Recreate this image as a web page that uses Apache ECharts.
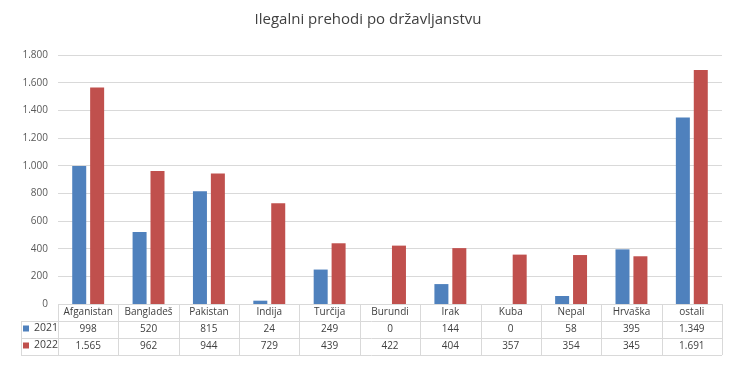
<!DOCTYPE html>
<html><head><meta charset="utf-8">
<script src="https://cdn.jsdelivr.net/npm/echarts@6/dist/echarts.min.js"></script>
<style>html,body{margin:0;padding:0;background:#fff}#c{width:736px;height:367px}</style>
</head><body><div id="c"></div>
<script>
var categories = ['Afganistan','Bangladeš','Pakistan','Indija','Turčija','Burundi','Irak','Kuba','Nepal','Hrvaška','ostali'];
var values2021 = [998,520,815,24,249,0,144,0,58,395,1349];
var values2022 = [1565,962,944,729,439,422,404,357,354,345,1691];
var seriesNames = ['2021','2022'];
var yTicks = [0,200,400,600,800,1000,1200,1400,1600,1800];

function fmt(v){ return String(v).replace(/\B(?=(\d{3})+(?!\d))/g,'.'); }

var FONT = "'Open Sans', sans-serif";
var TXT = '#404040';
var LINE = '#D9D9D9';
var gl = 58, gr = 14, gt = 55, gb = 63; // grid
var W = 736, H = 367;
var x0 = gl, x1 = W - gr, yAx = H - gb;
var rowH = 17, leftX = 21;

var graphics = [];
function hline(x, x2, y){ graphics.push({type:'line', shape:{x1:x,y1:y,x2:x2,y2:y}, style:{stroke:LINE,lineWidth:1}, silent:true}); }
function vline(x, y, y2){ graphics.push({type:'line', shape:{x1:x,y1:y,x2:x,y2:y2}, style:{stroke:LINE,lineWidth:1}, silent:true}); }
hline(x0, x1, yAx + 0.5);
hline(leftX, x1, yAx + rowH + 0.5);
hline(leftX, x1, yAx + 2*rowH + 0.5);
hline(leftX, x1, yAx + 3*rowH + 0.5);
vline(leftX + 0.5, yAx + rowH, yAx + 3*rowH);
var cw = (x1 - x0) / categories.length;
for (var i = 0; i <= categories.length; i++) {
  var xx = Math.round(x0 + i*cw) + 0.5;
  vline(xx, yAx, yAx + 3*rowH);
}

function tableAxis(offset, formatter){
  return {
    type:'category', data:categories, position:'bottom', offset:offset,
    axisLine:{show:false}, axisTick:{show:false}, splitLine:{show:false},
    axisLabel:{interval:0, color:TXT, fontSize:10, fontFamily:FONT, margin:8.5, verticalAlign:'middle', formatter:formatter}
  };
}
function legendRow(k){
  return {data:[seriesNames[k]], left:23, top:yAx + rowH*(k+1) + 2, padding:0,
    itemWidth:6, itemHeight:6, icon:'rect',
    textStyle:{fontFamily:FONT, fontSize:10.5, color:TXT}};
}

var chart = echarts.init(document.getElementById('c'));
chart.setOption({
  animation:false,
  title:{text:'Ilegalni prehodi po državljanstvu', left:'center', top:7,
    textStyle:{fontFamily:FONT, fontSize:15, fontWeight:'normal', color:TXT}},
  legend:[legendRow(0), legendRow(1)],
  grid:{left:gl, right:gr, top:gt, bottom:gb},
  xAxis:[
    tableAxis(0, function(v){ return v; }),
    tableAxis(rowH, function(v, i){ return fmt(values2021[i]); }),
    tableAxis(2*rowH, function(v, i){ return fmt(values2022[i]); })
  ],
  yAxis:{type:'value', min:yTicks[0], max:yTicks[yTicks.length-1], interval:200,
    axisLine:{show:false}, axisTick:{show:false},
    splitLine:{lineStyle:{color:LINE}},
    axisLabel:{color:'#595959', fontSize:10, fontFamily:FONT, margin:10, formatter:function(v){return fmt(v);}}},
  series:[
    {name:seriesNames[0], type:'bar', data:values2021, xAxisIndex:0, barWidth:14, barGap:'28%',
      itemStyle:{color:'#4F81BD'}},
    {name:seriesNames[1], type:'bar', data:values2022, xAxisIndex:0, barWidth:14,
      itemStyle:{color:'#C0504D'}}
  ],
  graphic:graphics
});
</script></body></html>
